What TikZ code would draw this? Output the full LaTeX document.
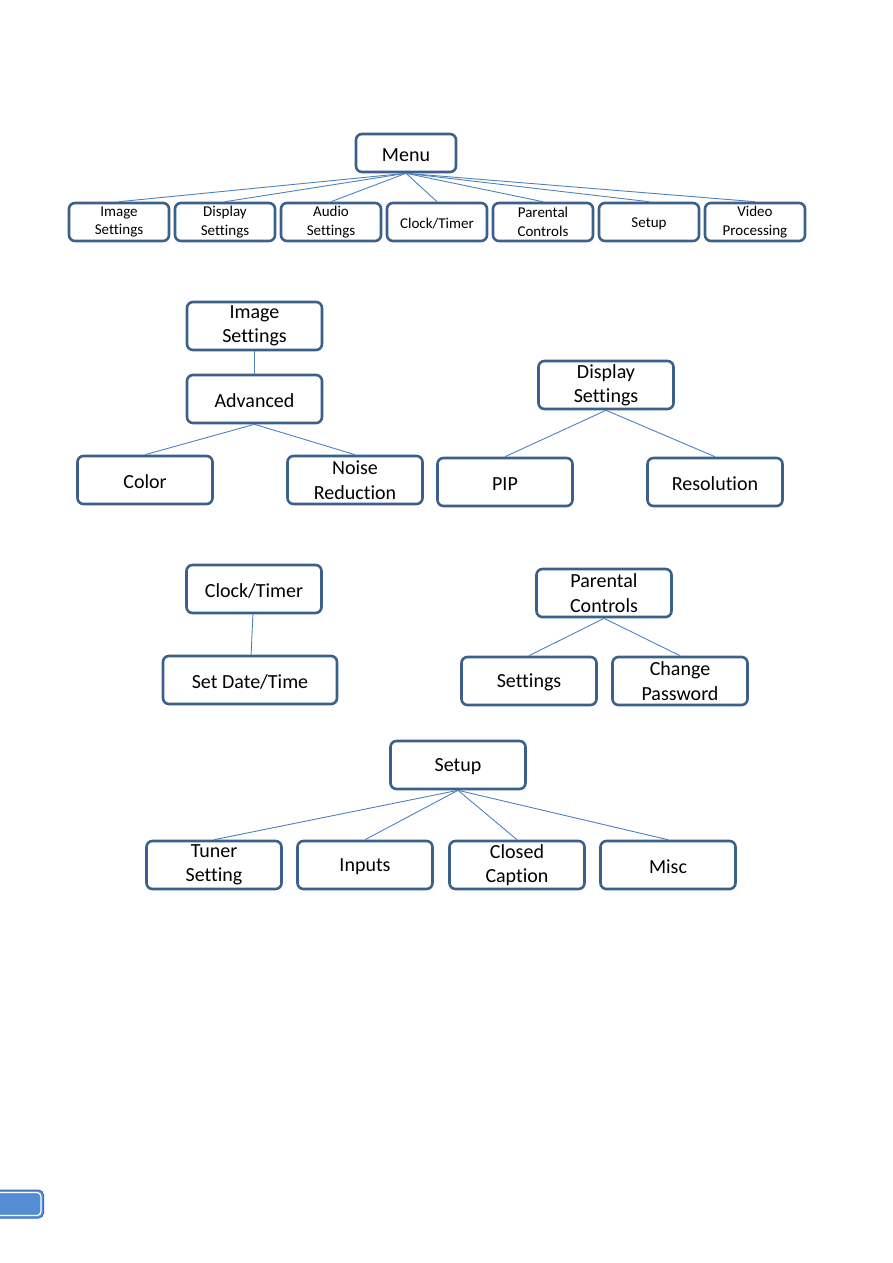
\documentclass[tikz,border=0pt]{standalone}
\usepackage{fontspec}
\setmainfont{Carlito}[Ligatures=NoCommon]
\usepackage{tikz}
\usetikzlibrary{positioning}
\definecolor{boxblue}{RGB}{60,96,140}
\definecolor{linkblue}{RGB}{79,129,189}
\definecolor{tabblue}{RGB}{84,141,212}
\definecolor{tabedge}{RGB}{60,110,180}

\tikzset{
  menubox/.style={draw=boxblue, line width=2.6pt, rounded corners=6pt, fill=white,
    align=center, inner sep=0pt},
  smallbox/.style={menubox, minimum width=100pt, minimum height=38pt,
    font=\fontsize{15}{18.8}\selectfont, execute at begin node={\rule{0pt}{13.5pt}}},
  bigbox/.style={menubox, minimum width=135pt, minimum height=48pt,
    font=\fontsize{20}{24.4}\selectfont, execute at begin node={\rule{0pt}{17pt}}},
  link/.style={draw=linkblue, line width=0.9pt}
}

\begin{document}
\begin{tikzpicture}[x=1pt,y=-1pt]
  \useasboundingbox (0,0) rectangle (893,1263);

  % main menu
  \node[bigbox, minimum width=100pt, minimum height=38pt] (menu) at (406,153) {Menu};
  \foreach \x/\name/\lbl in {119/img/Image\\Settings, 225/disp/Display\\Settings,
      331/audio/Audio\\Settings, 437/clock/{Clock/Timer}, 543/parent/Parental\\Controls,
      649/setup/Setup, 755/video/Video\\Processing}
  {
    \node[smallbox] (m-\name) at (\x,222) {\lbl};
    \draw[link] (menu.south) -- (m-\name.north);
  }

  % image settings
  \node[bigbox] (imgset) at (254.5,326) {Image\\Settings};
  \node[bigbox] (adv) at (254.5,399) {Advanced};
  \node[bigbox] (color) at (145,480) {Color};
  \node[bigbox] (noise) at (355,480) {Noise\\Reduction};
  \draw[link] (imgset) -- (adv);
  \draw[link] (adv.south) -- (color.north);
  \draw[link] (adv.south) -- (noise.north);

  % display settings
  \node[bigbox] (dispset) at (606,385) {Display\\Settings};
  \node[bigbox] (pip) at (505,482) {PIP};
  \node[bigbox] (res) at (715,482) {Resolution};
  \draw[link] (dispset.south) -- (pip.north);
  \draw[link] (dispset.south) -- (res.north);

  % clock/timer
  \node[bigbox] (clockset) at (254,589) {Clock/Timer};
  \node[bigbox, minimum width=174pt] (date) at (250,680) {Set Date/Time};
  \draw[link] (clockset) -- (date);

  % parental controls
  \node[bigbox] (parentset) at (604,593) {Parental\\Controls};
  \node[bigbox] (pset) at (529,681) {Settings};
  \node[bigbox] (pwd) at (680,681) {Change\\Password};
  \draw[link] (parentset.south) -- (pset.north);
  \draw[link] (parentset.south) -- (pwd.north);

  % setup
  \node[bigbox] (setupset) at (458,765) {Setup};
  \foreach \x/\name/\lbl in {214/tuner/Tuner\\Setting, 365/inputs/Inputs,
      517/cc/Closed\\Caption, 668/misc/Misc}
  {
    \node[bigbox] (s-\name) at (\x,865) {\lbl};
    \draw[link] (setupset.south) -- (s-\name.north);
  }

  % page tab
  \draw[draw=tabedge, fill=tabblue, line width=1pt, rounded corners=5pt]
    (-8,1190) rectangle (43.5,1218);
  \draw[white, line width=1.3pt, rounded corners=4pt] (-8,1192.5) rectangle (41,1215.5);
\end{tikzpicture}
\end{document}
